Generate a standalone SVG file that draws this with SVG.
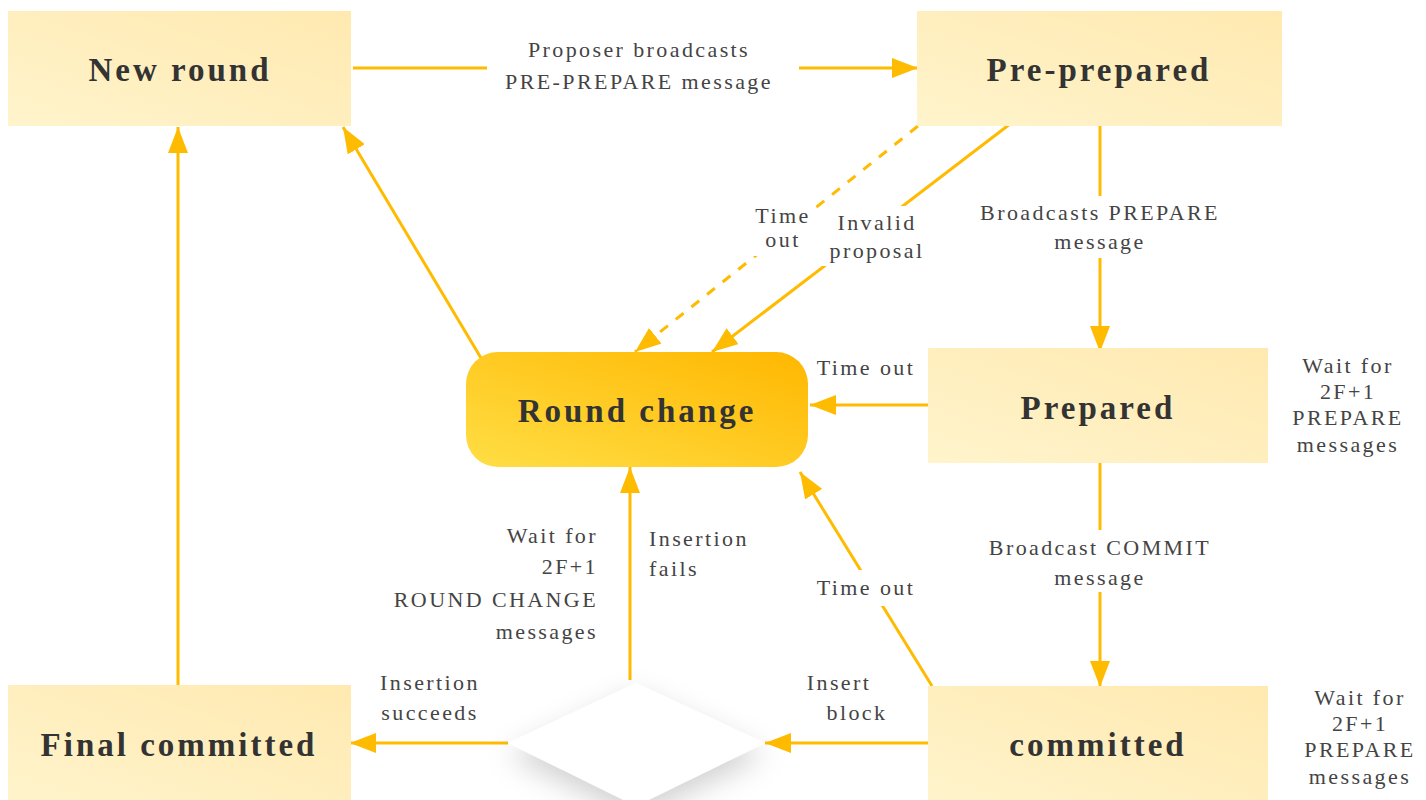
<svg xmlns="http://www.w3.org/2000/svg" width="1426" height="800" viewBox="0 0 1426 800">
<defs>
<linearGradient id="gNode" x1="0" y1="1" x2="1" y2="0">
<stop offset="0" stop-color="#FFF4CC"/>
<stop offset="1" stop-color="#FFE9B0"/>
</linearGradient>
<linearGradient id="gRC" x1="0" y1="1" x2="1" y2="0">
<stop offset="0" stop-color="#FFDE45"/>
<stop offset="1" stop-color="#FFB700"/>
</linearGradient>
<filter id="shadow" x="-40%" y="-40%" width="180%" height="200%">
<feDropShadow dx="0" dy="12" stdDeviation="14" flood-color="#000" flood-opacity="0.18"/>
</filter>
<marker id="arr" viewBox="0 0 26 20" refX="26" refY="10" markerWidth="26" markerHeight="20" markerUnits="userSpaceOnUse" orient="auto">
<path d="M0,0 L26,10 L0,20 Z" fill="#FFBB00"/>
</marker>
</defs>
<style>
.node{fill:url(#gNode);}
.nt{font-family:"Liberation Serif","DejaVu Serif",serif;font-weight:bold;font-size:33px;letter-spacing:3px;fill:#333;text-anchor:middle;}
.el{font-family:"Liberation Serif","DejaVu Serif",serif;font-size:22px;letter-spacing:2.4px;fill:#444;}
.c{text-anchor:middle;}
.r{text-anchor:end;}
.l{text-anchor:start;}
.ln{stroke:#FFBB00;stroke-width:3;fill:none;marker-end:url(#arr);}
.dash{stroke-dasharray:10 10;}
.bg{fill:#fff;}
</style>
<rect width="1426" height="800" fill="#fff"/>

<g id="connectors">
<line class="ln" x1="353" y1="68" x2="918" y2="68"/>
<line class="ln" x1="1100" y1="126" x2="1100" y2="352"/>
<line class="ln" x1="1100" y1="463" x2="1100" y2="687"/>
<line class="ln" x1="928" y1="405" x2="810" y2="405"/>
<line class="ln dash" x1="918" y1="126" x2="635" y2="352"/>
<line class="ln" x1="1010" y1="124" x2="712" y2="352"/>
<line class="ln" x1="932" y1="686" x2="800" y2="472"/>
<line class="ln" x1="630" y1="680" x2="630" y2="467"/>
<line class="ln" x1="928" y1="743" x2="765" y2="743"/>
<line class="ln" x1="508" y1="743" x2="350" y2="743"/>
<line class="ln" x1="178" y1="686" x2="178" y2="127"/>
<line class="ln" x1="481" y1="358" x2="343" y2="127"/>
</g>

<g id="label-backgrounds">
<rect class="bg" x="487" y="34" width="312" height="64"/>
<rect class="bg" x="972" y="196" width="256" height="62"/>
<rect class="bg" x="980" y="530" width="240" height="62"/>
<rect class="bg" x="750" y="200" width="66" height="56"/>
<rect class="bg" x="822" y="206" width="108" height="60"/>
<rect class="bg" x="810" y="570" width="112" height="36"/>
</g>

<g id="edge-labels">
<text class="el c" x="639" y="57">Proposer broadcasts</text>
<text class="el c" x="639" y="89">PRE-PREPARE message</text>
<text class="el c" x="1100" y="220">Broadcasts PREPARE</text>
<text class="el c" x="1100" y="249">message</text>
<text class="el c" x="1100" y="555">Broadcast COMMIT</text>
<text class="el c" x="1100" y="585">message</text>
<text class="el c" x="866" y="375">Time out</text>
<text class="el c" x="783" y="223">Time</text>
<text class="el c" x="783" y="247">out</text>
<text class="el c" x="877" y="230">Invalid</text>
<text class="el c" x="877" y="258">proposal</text>
<text class="el c" x="866" y="595">Time out</text>
<text class="el c" x="839" y="690">Insert</text>
<text class="el c" x="857" y="720">block</text>
<text class="el c" x="430" y="690">Insertion</text>
<text class="el c" x="430" y="720">succeeds</text>
<text class="el l" x="649" y="546">Insertion</text>
<text class="el l" x="649" y="576">fails</text>
<text class="el r" x="598" y="543">Wait for</text>
<text class="el r" x="598" y="574">2F+1</text>
<text class="el r" x="598" y="607">ROUND CHANGE</text>
<text class="el r" x="598" y="639">messages</text>
<text class="el c" x="1348" y="373">Wait for</text>
<text class="el c" x="1348" y="399">2F+1</text>
<text class="el c" x="1348" y="425">PREPARE</text>
<text class="el c" x="1348" y="452">messages</text>
<text class="el c" x="1360" y="705">Wait for</text>
<text class="el c" x="1360" y="731">2F+1</text>
<text class="el c" x="1360" y="757">PREPARE</text>
<text class="el c" x="1360" y="784">messages</text>
</g>

<g id="node-new-round">
<rect class="node" x="8" y="11" width="343" height="115"/>
<text class="nt" x="180" y="81">New round</text>
</g>
<g id="node-pre-prepared">
<rect class="node" x="917" y="11" width="365" height="115"/>
<text class="nt" x="1099" y="81">Pre-prepared</text>
</g>
<g id="node-prepared">
<rect class="node" x="928" y="348" width="340" height="115"/>
<text class="nt" x="1098" y="419">Prepared</text>
</g>
<g id="node-committed">
<rect class="node" x="928" y="686" width="340" height="120"/>
<text class="nt" x="1098" y="756">committed</text>
</g>
<g id="node-final-committed">
<rect class="node" x="8" y="685" width="343" height="120"/>
<text class="nt" x="179" y="756">Final committed</text>
</g>
<g id="node-round-change">
<rect x="466" y="352" width="342" height="115" rx="32" fill="url(#gRC)"/>
<text class="nt" x="637" y="422">Round change</text>
</g>
<g id="node-decision">
<polygon points="636,683 765,743 636,806 508,743" fill="#fff" filter="url(#shadow)"/>
</g>
</svg>
